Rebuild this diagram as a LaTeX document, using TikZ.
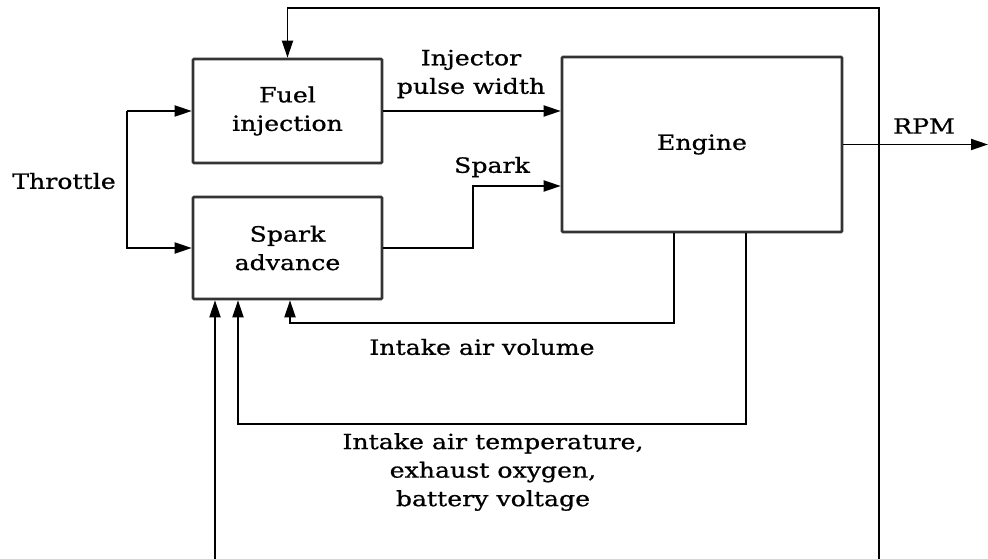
\documentclass[tikz,border=0pt]{standalone}
\usepackage{fontspec}
\setmainfont{DejaVu Serif}[FakeStretch=1.2,FakeBold=0.8]
\usetikzlibrary{arrows.meta}
\begin{document}
\begin{tikzpicture}[x=1pt,y=-1pt,
  box/.style={draw=black!80,line width=2.6pt,rounded corners=1pt,inner sep=0pt,align=center,font=\lbl},
  arr/.style={line width=1.9pt,-{Triangle[length=17pt,width=11pt]}},
  lab/.style={inner sep=0pt,align=center,font=\lbl}]
\newcommand{\lbl}{\fontsize{21}{28.5}\selectfont}
\useasboundingbox (0,0) rectangle (988,559);
\node[box,minimum width=189pt,minimum height=104pt] (fuel) at (287.5,111) {Fuel\\injection};
\node[box,minimum width=189pt,minimum height=102pt] (spark) at (287.5,248) {Spark\\advance};
\node[box,minimum width=280pt,minimum height=175pt] (engine) at (702,144.5) {Engine};
% top feedback
\coordinate (tb) at (879,559);
\draw[arr] (tb) -- (879,8) -| (fuel.north);
% throttle
\coordinate (t1) at (127,111);
\coordinate (t2) at (127,248);
\draw[arr] (t1) -- (fuel.west);
\draw[arr] (t1) -- (t2) -- (spark.west);
\node[lab] (thr) at (64,181) {Throttle};
% injector
\draw[arr] (fuel.east) -- (fuel.east -| engine.west);
\node[lab] (inj) at (471,74) {Injector\\pulse width};
% spark
\coordinate (sk) at (473,186);
\draw[arr] (spark.east) -| (sk) -- (sk -| engine.west);
\node[lab] (skl) at (492,167) {Spark};
% rpm
\coordinate (rpm) at (988,144.5);
\draw[arr] (engine.east) -- (rpm);
\node[lab] (rpml) at (924,126) {RPM};
% intake air volume
\coordinate (c1) at (290,323);
\draw[arr] ([xshift=-28pt]engine.south) |- (c1) -- (c1 |- spark.south);
\node[lab] (iav) at (482,347) {Intake air volume};
% intake air temperature
\coordinate (c2) at (238,424);
\draw[arr] ([xshift=44pt]engine.south) |- (c2) -- (c2 |- spark.south);
\node[lab] (iat) at (493,472) {Intake air temperature,\\exhaust oxygen,\\battery voltage};
% bottom input
\coordinate (c3) at (215,559);
\draw[arr] (c3) -- (c3 |- spark.south);
\end{tikzpicture}
\end{document}
